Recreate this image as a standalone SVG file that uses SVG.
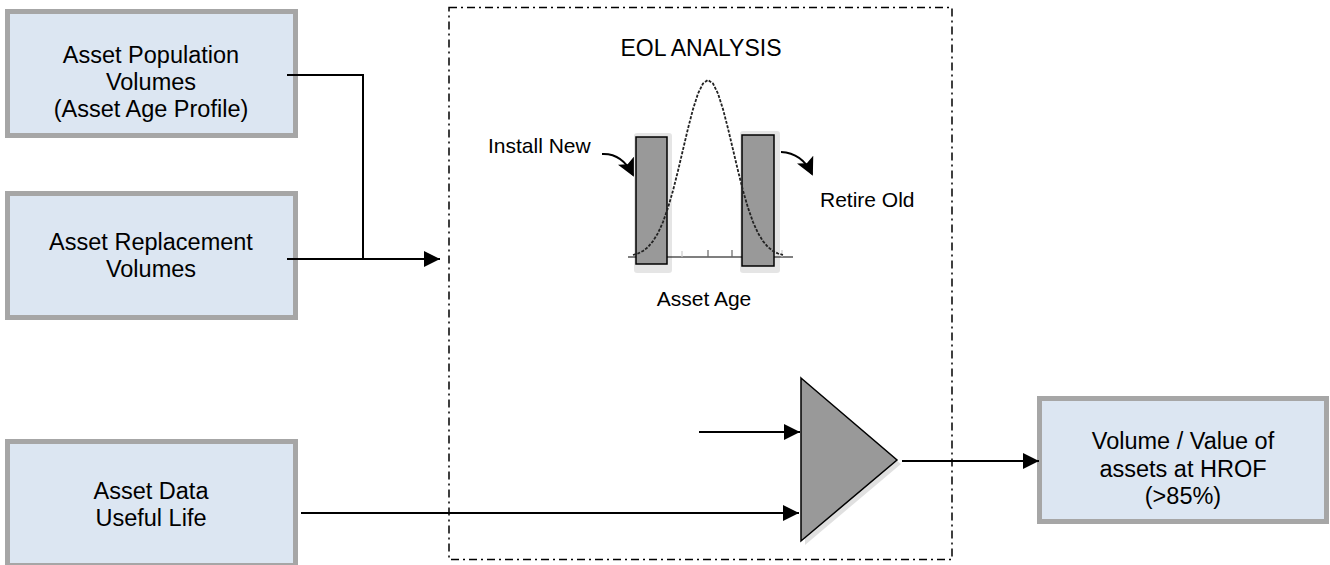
<svg xmlns="http://www.w3.org/2000/svg" width="1330" height="565" viewBox="0 0 1330 565">
<style>
.box{fill:#dce6f2;stroke:#a6a6a6;stroke-width:5}
.t{font-family:"Liberation Sans",Arial,sans-serif;font-size:23.5px;fill:#000;text-anchor:middle}
.lbl{font-family:"Liberation Sans",Arial,sans-serif;font-size:21px;fill:#000}
.ln{fill:none;stroke:#000;stroke-width:2}
.bar{fill:#999;stroke:#000;stroke-width:1.5}
.sh{fill:#000;opacity:0.1}
</style>
<defs>
<marker id="ah" viewBox="0 0 16 16" refX="16" refY="8" markerWidth="16" markerHeight="16" markerUnits="userSpaceOnUse" orient="auto">
<path d="M0,0 L16,8 L0,16 Z" fill="#000"/>
</marker>
<marker id="ch" viewBox="0 0 18 18" refX="16" refY="9" markerWidth="18" markerHeight="18" markerUnits="userSpaceOnUse" orient="auto">
<path d="M0,0 L18,9 L0,18 L4,9 Z" fill="#000"/>
</marker>
</defs>

<g id="eol-frame">
<rect x="449" y="7.5" width="503" height="552" fill="none" stroke="#000" stroke-width="1.5" stroke-dasharray="8,4,2,4"/>
<text class="t" x="701" y="56" style="font-size:23px">EOL ANALYSIS</text>
</g>

<g id="chart">
<line x1="628" y1="257" x2="793" y2="257" stroke="#555" stroke-width="1.5"/>
<g stroke="#666" stroke-width="1.2">
<line x1="658" y1="250" x2="658" y2="257"/>
<line x1="682" y1="251" x2="682" y2="257" stroke="#ccc"/>
<line x1="708" y1="250" x2="708" y2="257"/>
<line x1="732" y1="250" x2="732" y2="257"/>
<line x1="782" y1="250" x2="782" y2="257" stroke="#ccc"/>
</g>
<rect class="sh" x="634" y="133" width="38" height="140" rx="3"/>
<rect class="sh" x="740" y="131" width="40" height="142" rx="3"/>
<rect class="bar" x="636" y="137" width="31" height="127"/>
<rect class="bar" x="742" y="135" width="32" height="131"/>
<polyline points="633,255 638,253.5 643,251 648,247.1 653,241.2 658,233.1 663,222 668,207.8 673,190.6 678,170.8 683,149.6 688,128.5 693,109.2 698,93.6 703,83.5 708,80 713,83.5 718,93.6 723,109.2 728,128.5 733,149.6 738,170.8 743,190.6 748,207.8 753,222 758,233.1 763,241.2 768,247.1 773,251 778,253.5 783,255" fill="none" stroke="#222" stroke-width="1.8" stroke-dasharray="3,1.5" stroke-linejoin="round"/>
<text class="lbl" x="488" y="153">Install New</text>
<text class="lbl" x="820" y="207">Retire Old</text>
<text class="lbl" x="704" y="306" text-anchor="middle">Asset Age</text>
<path class="ln" d="M602,154 Q622,153 633,175" stroke-width="2.8" marker-end="url(#ch)"/>
<path class="ln" d="M781,152 Q802,153 812,174" stroke-width="2.8" marker-end="url(#ch)"/>
</g>

<g id="combiner">
<polygon points="805,382 901,464 805,545" fill="#000" opacity="0.12"/>
<polygon points="801,378 897,460 801,541" fill="#999" stroke="#000" stroke-width="1.5"/>
</g>

<g id="node-population">
<rect class="box" x="7.5" y="11.5" width="288" height="124"/>
<text class="t" x="151" y="63">Asset Population</text>
<text class="t" x="151" y="90">Volumes</text>
<text class="t" x="151" y="117">(Asset Age Profile)</text>
</g>

<g id="node-replacement">
<rect class="box" x="7.5" y="193.5" width="288" height="124"/>
<text class="t" x="151" y="250">Asset Replacement</text>
<text class="t" x="151" y="277">Volumes</text>
</g>

<g id="node-assetdata">
<rect class="box" x="7.5" y="441.5" width="288" height="124"/>
<text class="t" x="151" y="499">Asset Data</text>
<text class="t" x="151" y="526">Useful Life</text>
</g>

<g id="node-output">
<rect class="box" x="1039.5" y="398.5" width="287" height="123"/>
<text class="t" x="1183" y="449">Volume / Value of</text>
<text class="t" x="1183" y="477">assets at HROF</text>
<text class="t" x="1183" y="504">(&gt;85%)</text>
</g>

<g id="connectors">
<path class="ln" d="M287,75 H363 V259"/>
<path class="ln" d="M287,259 H440" marker-end="url(#ah)"/>
<path class="ln" d="M699,432 H800" marker-end="url(#ah)"/>
<path class="ln" d="M301,513 H799" marker-end="url(#ah)"/>
<path class="ln" d="M902,461 H1039" marker-end="url(#ah)"/>
</g>
</svg>
